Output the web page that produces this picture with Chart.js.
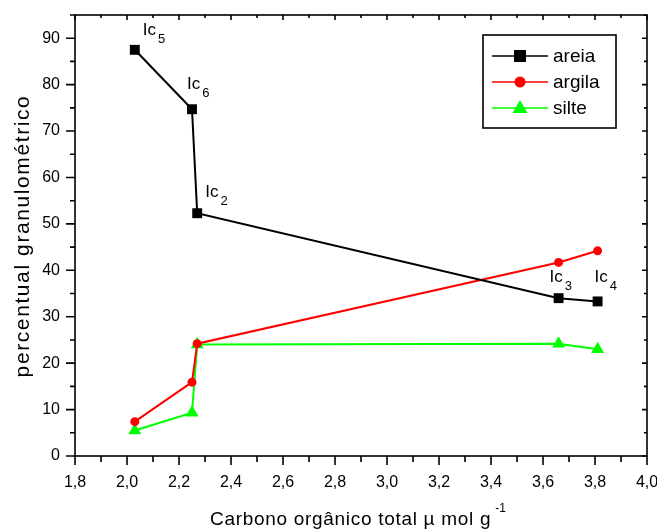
<!DOCTYPE html>
<html>
<head>
<meta charset="utf-8">
<script src="https://cdn.jsdelivr.net/npm/chart.js@4.4.1/dist/chart.umd.min.js"></script>
<style>
  html, body { margin: 0; padding: 0; background: #fff; }
  #wrap { width: 657px; height: 529px; }
</style>
</head>
<body>
<div id="wrap"><canvas id="c" width="657" height="529"></canvas></div>
<script>
// Samples, in order along each curve
const samples = ['5', '6', '2', '3', '4'];
// Carbono orgânico total (µmol g-1) per sample
const carbono = [2.03, 2.25, 2.27, 3.66, 3.81];
// Granulometric fractions (%)
const areia  = [87.5, 74.7, 52.3, 34.0, 33.3];
const argila = [7.4, 15.9, 24.2, 41.7, 44.2];
const silte  = [5.5, 9.3, 24.0, 24.2, 23.0];
// Axis ranges / ticks
const xMin = 1.8, xMax = 4.0, xStep = 0.1;
const yMin = 0, yMax = 95, yStep = 5;

const FONT = '"Liberation Sans", Arial, sans-serif';

function pts(xs, ys) { return xs.map((x, i) => ({ x: x, y: ys[i] })); }

// Label offsets (px) for the sample tags drawn next to the areia points
const tagOffsets = [[8, -15], [-5, -20], [8, -16], [-9, -16], [-3, -19]];

const frameAndTicks = {
  id: 'frameAndTicks',
  afterDraw(chart) {
    const ctx = chart.ctx;
    const xs = chart.scales.x, ys = chart.scales.y;
    const ca = chart.chartArea;
    ctx.save();
    ctx.strokeStyle = '#000';
    ctx.lineWidth = 1.6;
    ctx.strokeRect(ca.left, ca.top, ca.right - ca.left, ca.bottom - ca.top);
    ctx.beginPath();
    // x ticks: outward on bottom, inward on top
    for (let i = 0; ; i++) {
      const v = +(xMin + i * xStep).toFixed(2);
      if (v > xMax + 1e-9) break;
      const major = i % 2 === 0;
      const px = xs.getPixelForValue(v);
      const len = major ? 9 : 6;
      ctx.moveTo(px, ca.bottom); ctx.lineTo(px, ca.bottom + len);
      ctx.moveTo(px, ca.top); ctx.lineTo(px, ca.top + (major ? 5 : 3));
    }
    // y ticks: outward on left, inward on right
    for (let i = 0; ; i++) {
      const v = yMin + i * yStep;
      if (v > yMax) break;
      const major = v % 10 === 0;
      const py = ys.getPixelForValue(v);
      const len = major ? 9 : 5;
      ctx.moveTo(ca.left, py); ctx.lineTo(ca.left - len, py);
      ctx.moveTo(ca.right, py); ctx.lineTo(ca.right - (major ? 5 : 3), py);
    }
    ctx.stroke();

    // axis titles
    ctx.fillStyle = '#000';
    ctx.textBaseline = 'alphabetic';
    ctx.textAlign = 'left';
    ctx.font = '19px ' + FONT;
    ctx.letterSpacing = '0.7px';
    const xTitle = 'Carbono orgânico total µ mol g';
    const w = ctx.measureText(xTitle).width;
    const tx = 210;
    ctx.fillText(xTitle, tx, 525);
    ctx.letterSpacing = '0px';
    ctx.font = '12px ' + FONT;
    ctx.fillText('-1', tx + w + 4, 512);

    ctx.save();
    ctx.translate(29, 236);
    ctx.rotate(-Math.PI / 2);
    ctx.textAlign = 'center';
    ctx.font = '21px ' + FONT;
    ctx.letterSpacing = '1.6px';
    ctx.fillText('percentual granulométrico', 0, 0);
    ctx.restore();
    ctx.letterSpacing = '0px';

    // sample tags next to the areia points
    const meta = chart.getDatasetMeta(0);
    meta.data.forEach((pt, i) => {
      const [dx, dy] = tagOffsets[i];
      const x0 = pt.x + dx, y0 = pt.y + dy;
      ctx.textAlign = 'left';
      ctx.font = '17px ' + FONT;
      ctx.fillText('Ic', x0, y0);
      const iw = ctx.measureText('Ic').width;
      ctx.font = '13px ' + FONT;
      ctx.fillText(samples[i], x0 + iw + 2, y0 + 8);
    });

    // legend
    const lx = 483, ly = 35, lw = 133, lh = 93;
    ctx.strokeStyle = '#000';
    ctx.lineWidth = 1.6;
    ctx.strokeRect(lx, ly, lw, lh);
    const rows = [56, 82, 108];
    chart.data.datasets.forEach((ds, i) => {
      const y = rows[i];
      ctx.strokeStyle = ds.borderColor;
      ctx.lineWidth = 1.5;
      ctx.beginPath();
      ctx.moveTo(492, y); ctx.lineTo(548, y);
      ctx.stroke();
      ctx.fillStyle = ds.pointBackgroundColor;
      ctx.beginPath();
      if (ds.pointStyle === 'rect') {
        ctx.fillRect(514, y - 6, 12, 12);
      } else if (ds.pointStyle === 'circle') {
        ctx.arc(520, y, 5.5, 0, Math.PI * 2); ctx.fill();
      } else {
        ctx.moveTo(520, y - 8); ctx.lineTo(527.5, y + 5); ctx.lineTo(512.5, y + 5); ctx.closePath(); ctx.fill();
      }
      ctx.fillStyle = '#000';
      ctx.font = '19px ' + FONT;
      ctx.textAlign = 'left';
      ctx.textBaseline = 'middle';
      ctx.fillText(ds.label, 553, y + 1);
      ctx.textBaseline = 'alphabetic';
    });
    ctx.restore();
  }
};

new Chart(document.getElementById('c'), {
  type: 'scatter',
  data: {
    datasets: [
      { label: 'areia', data: pts(carbono, areia), showLine: true,
        borderColor: '#000', backgroundColor: '#000', pointBackgroundColor: '#000', pointBorderColor: '#000',
        pointStyle: 'rect', pointRadius: 7, borderWidth: 2, pointBorderWidth: 0 },
      { label: 'argila', data: pts(carbono, argila), showLine: true,
        borderColor: '#ff0000', backgroundColor: '#ff0000', pointBackgroundColor: '#ff0000', pointBorderColor: '#ff0000',
        pointStyle: 'circle', pointRadius: 4.5, borderWidth: 2, pointBorderWidth: 0 },
      { label: 'silte', data: pts(carbono, silte), showLine: true,
        borderColor: '#00ff00', backgroundColor: '#00ff00', pointBackgroundColor: '#00ff00', pointBorderColor: '#00ff00',
        pointStyle: 'triangle', pointRadius: 7.5, borderWidth: 2, pointBorderWidth: 0 }
    ]
  },
  options: {
    responsive: false,
    animation: false,
    layout: { padding: { left: 0, right: 10, top: 15, bottom: 0 } },
    plugins: { legend: { display: false }, tooltip: { enabled: false } },
    scales: {
      x: {
        type: 'linear', min: xMin, max: xMax,
        afterFit(s) { s.height = 73; s.paddingLeft = 0; s.paddingRight = 0; },
        grid: { display: false },
        border: { display: false },
        ticks: {
          stepSize: xStep, padding: 9, color: '#000', maxRotation: 0, autoSkip: false,
          font: { family: FONT, size: 16 },
          callback: (v) => Math.round(v * 10) % 2 === 0 ? v.toFixed(1).replace('.', ',') : ''
        }
      },
      y: {
        type: 'linear', min: yMin, max: yMax,
        afterFit(s) { s.width = 75; s.paddingTop = 0; s.paddingBottom = 0; },
        grid: { display: false },
        border: { display: false },
        ticks: {
          stepSize: yStep, padding: 7, color: '#000', autoSkip: false,
          font: { family: FONT, size: 16 },
          callback: (v) => v % 10 === 0 ? String(v) : ''
        }
      }
    }
  },
  plugins: [frameAndTicks]
});
</script>
</body>
</html>
